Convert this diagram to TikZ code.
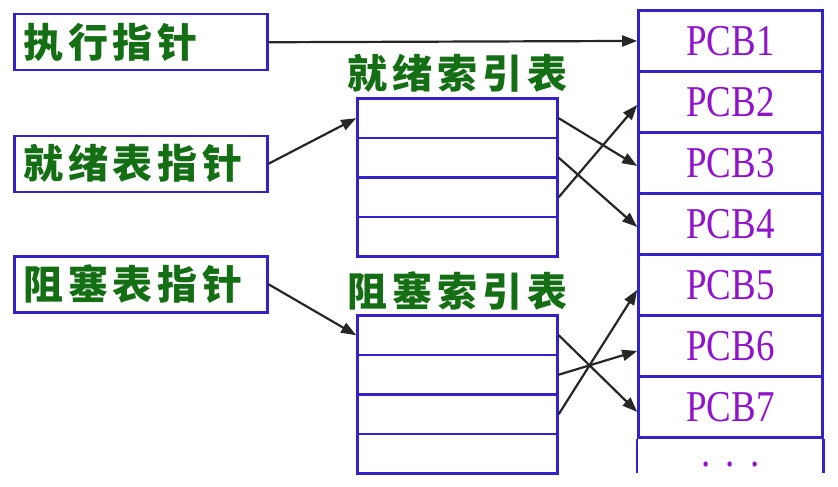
\documentclass[tikz,border=0pt]{standalone}
\usepackage{fontspec}
\setmainfont{Liberation Serif}
\newfontfamily\cjk[LetterSpace=12]{Noto Sans CJK SC}
\newfontfamily\pcbfont[FakeStretch=0.84]{Liberation Serif}
\usetikzlibrary{arrows.meta, matrix, positioning}
\definecolor{boxblue}{RGB}{51,34,204}
\definecolor{txtgreen}{RGB}{20,110,20}
\definecolor{pcbpurple}{RGB}{145,20,205}
\tikzset{
  ptrbox/.style={draw=boxblue, line width=2.5pt, text width=235pt, align=left, inner xsep=9pt, inner ysep=0pt, minimum height=56pt, text=txtgreen, font=\cjk\bfseries\fontsize{40}{44}\selectfont},
  tabtitle/.style={inner sep=0pt, text=txtgreen, font=\cjk\bfseries\fontsize{40}{44}\selectfont},
  idxtab/.style={matrix of nodes, nodes in empty cells, anchor=north west, inner sep=0pt, nodes={draw=boxblue, line width=2.5pt, minimum width=200pt, minimum height=39.5pt}, row sep=-2.5pt},
  pcbtab/.style={matrix of nodes, anchor=north west, inner sep=0pt, nodes={draw=boxblue, line width=2.5pt, minimum width=184pt, minimum height=61pt, text=pcbpurple, font=\pcbfont\fontsize{44}{46}\selectfont}, row sep=-2.5pt},
  ptr/.style={-{Triangle[length=15pt, width=11pt]}, line width=2.2pt, draw=black!85}
}
\begin{document}
\begin{tikzpicture}[x=1pt, y=-1pt]
  \useasboundingbox (0,0) rectangle (838,487);
  % pointers
  \node[ptrbox, anchor=north west] (exec) at (13,13) {执行指针};
  \node[ptrbox, below=63pt of exec] (readyptr) {就绪表指针};
  \node[ptrbox, below=62pt of readyptr] (blockptr) {阻塞表指针};
  % index tables
  \matrix[idxtab] (ready) at (356,97) {
    \\ \\ \\ \\
  };
  \node[tabtitle, above=4pt of ready] {就绪索引表};
  \matrix[idxtab] (block) at (356,314) {
    \\ \\ \\ \\
  };
  \node[tabtitle, above=4pt of block] {阻塞索引表};
  % PCB list
  \matrix[pcbtab] (pcb) at (637,9) {
    PCB1 \\
    PCB2 \\
    PCB3 \\
    PCB4 \\
    PCB5 \\
    PCB6 \\
    PCB7 \\
    |[draw=none, minimum height=36pt, text height=24pt, text depth=0pt]| .\hspace{15pt}.\hspace{15pt}. \\
  };
  \draw[boxblue, line width=2.5pt] (pcb-7-1.south west) -- (pcb-8-1.south west)
    (pcb-7-1.south east) -- (pcb-8-1.south east);
  % links
  \draw[ptr] (exec.east) -- (pcb-1-1.west);
  \draw[ptr] (readyptr.east) -- (ready-1-1.west);
  \draw[ptr] (blockptr.east) -- (block-1-1.west);
  \draw[ptr] (ready-1-1.east) -- ([yshift=-3pt]pcb-3-1.west);
  \draw[ptr] (ready-2-1.east) -- ([yshift=-3pt]pcb-4-1.west);
  \draw[ptr] (ready-3-1.east) -- ([yshift=-3pt]pcb-2-1.west);
  \draw[ptr] (block-1-1.east) -- ([yshift=-5pt]pcb-7-1.west);
  \draw[ptr] (block-2-1.east) -- ([yshift=-5pt]pcb-6-1.west);
  \draw[ptr] (block-3-1.east) -- ([yshift=-5pt]pcb-5-1.west);
\end{tikzpicture}
\end{document}
